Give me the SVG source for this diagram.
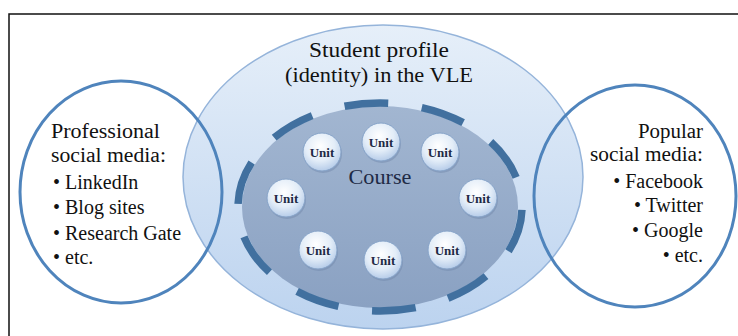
<svg xmlns="http://www.w3.org/2000/svg" width="738" height="336" viewBox="0 0 738 336">
  <defs>
    <linearGradient id="gOuter" x1="0" y1="0" x2="0" y2="1">
      <stop offset="0" stop-color="#e6eff9"/>
      <stop offset="1" stop-color="#bcd3ef"/>
    </linearGradient>
    <linearGradient id="gCourse" x1="0" y1="0" x2="0" y2="1">
      <stop offset="0" stop-color="#a2b6d1"/>
      <stop offset="1" stop-color="#8aa1c2"/>
    </linearGradient>
    <radialGradient id="gUnit" cx="0.45" cy="0.35" r="0.7">
      <stop offset="0" stop-color="#ffffff"/>
      <stop offset="0.55" stop-color="#e3edf8"/>
      <stop offset="1" stop-color="#aec6e6"/>
    </radialGradient>
    <style>
      .side { fill: none; stroke: #4f84bc; stroke-width: 3; }
      text { font-family: 'Liberation Serif', 'DejaVu Serif', serif; }
      .txt { fill: #111; font-size: 20px; }
      .title { fill: #111; font-size: 21px; }
      .unit circle.body { fill: url(#gUnit); stroke: #86a3c8; stroke-width: 1; }
      .unit circle.shadow { fill: #6f86a8; opacity: 0.45; }
      .unit text { font-weight: bold; font-size: 13px; fill: #1e2a45; text-anchor: middle; }
      .course-label { font-size: 21px; fill: #1e2a45; text-anchor: middle; }
    </style>
  </defs>

  <rect x="9" y="14" width="760" height="360" fill="#ffffff" stroke="#111" stroke-width="1.5"/>

  <g id="student-profile">
    <ellipse cx="383" cy="177" rx="200" ry="152" fill="url(#gOuter)" stroke="#95b4da" stroke-width="1.5"/>
    <text class="title" x="379" y="57" text-anchor="middle" textLength="140" lengthAdjust="spacingAndGlyphs">Student profile</text>
    <text class="title" x="379" y="82" text-anchor="middle" textLength="188" lengthAdjust="spacingAndGlyphs">(identity) in the VLE</text>
  </g>

  <g id="course">
    <ellipse cx="380" cy="207" rx="138" ry="101" fill="url(#gCourse)"/>
    <ellipse cx="380" cy="207" rx="142" ry="104" fill="none" stroke="#41709f" stroke-width="7.5" stroke-dasharray="44 33.745" stroke-dashoffset="74.86"/>
    <text class="course-label" x="380" y="184" textLength="63" lengthAdjust="spacingAndGlyphs">Course</text>
  </g>

  <g id="unit-1" class="unit"><circle class="shadow" cx="323" cy="154" r="19"/><circle class="body" cx="322" cy="152" r="19"/><text x="322" y="156.5">Unit</text></g>
  <g id="unit-2" class="unit"><circle class="shadow" cx="382" cy="144" r="19"/><circle class="body" cx="381" cy="142" r="19"/><text x="381" y="146.5">Unit</text></g>
  <g id="unit-3" class="unit"><circle class="shadow" cx="441" cy="154" r="19"/><circle class="body" cx="440" cy="152" r="19"/><text x="440" y="156.5">Unit</text></g>
  <g id="unit-4" class="unit"><circle class="shadow" cx="287" cy="200" r="19"/><circle class="body" cx="286" cy="198" r="19"/><text x="286" y="202.5">Unit</text></g>
  <g id="unit-5" class="unit"><circle class="shadow" cx="479" cy="200" r="19"/><circle class="body" cx="478" cy="198" r="19"/><text x="478" y="202.5">Unit</text></g>
  <g id="unit-6" class="unit"><circle class="shadow" cx="319" cy="252" r="19"/><circle class="body" cx="318" cy="250" r="19"/><text x="318" y="254.5">Unit</text></g>
  <g id="unit-7" class="unit"><circle class="shadow" cx="384" cy="262" r="19"/><circle class="body" cx="383" cy="260" r="19"/><text x="383" y="264.5">Unit</text></g>
  <g id="unit-8" class="unit"><circle class="shadow" cx="448" cy="252" r="19"/><circle class="body" cx="447" cy="250" r="19"/><text x="447" y="254.5">Unit</text></g>

  <g id="professional">
    <ellipse class="side" cx="121" cy="192" rx="101" ry="111"/>
    <text class="txt" x="51" y="138" textLength="109" lengthAdjust="spacingAndGlyphs">Professional</text>
    <text class="txt" x="51" y="162" textLength="115" lengthAdjust="spacingAndGlyphs">social media:</text>
    <text class="txt" x="53" y="189">• LinkedIn</text>
    <text class="txt" x="53" y="214">• Blog sites</text>
    <text class="txt" x="53" y="240">• Research Gate</text>
    <text class="txt" x="53" y="264">• etc.</text>
  </g>

  <g id="popular">
    <ellipse class="side" cx="635" cy="196" rx="101" ry="111"/>
    <text class="txt" x="703" y="138" text-anchor="end" textLength="65" lengthAdjust="spacingAndGlyphs">Popular</text>
    <text class="txt" x="703" y="161" text-anchor="end" textLength="113" lengthAdjust="spacingAndGlyphs">social media:</text>
    <text class="txt" x="703" y="188" text-anchor="end">• Facebook</text>
    <text class="txt" x="703" y="212" text-anchor="end">• Twitter</text>
    <text class="txt" x="703" y="237" text-anchor="end">• Google</text>
    <text class="txt" x="703" y="262" text-anchor="end">• etc.</text>
  </g>

  <g id="connectors"/>
</svg>
